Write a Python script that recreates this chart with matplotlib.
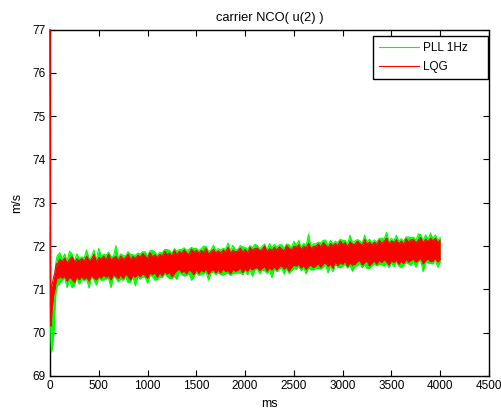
import matplotlib
matplotlib.use("Agg")
import matplotlib.pyplot as plt
from matplotlib.lines import Line2D

# time axis (ms): start-up transient, then every 25 ms
t_start = [0, 5, 10, 15, 20, 30, 40, 50, 60, 70, 80, 90, 100]
t_ms = t_start + list(range(125, 4001, 25))

# PLL 1Hz (green) upper / lower envelope
pll_hi = [72.45, 72.3, 70.9, 70.5, 70.4, 70.6, 70.9, 71.3, 71.6, 71.75, 71.8, 71.8, 71.85,
          71.69, 71.82, 71.65, 71.88, 71.82, 71.66, 71.82, 71.71,
          71.75, 71.72, 71.91, 71.70, 71.75, 71.91, 71.68, 71.95,
          71.76, 71.81, 71.79, 71.86, 71.76, 71.75, 72.01, 71.72,
          71.82, 71.78, 71.77, 71.87, 71.81, 71.80, 71.78, 71.84,
          71.81, 71.87, 71.87, 71.76, 71.89, 71.90, 71.86, 71.78,
          71.86, 71.84, 71.92, 71.92, 71.90, 71.82, 71.94, 71.88,
          71.92, 71.92, 71.96, 71.90, 71.92, 71.97, 71.94, 71.95,
          71.89, 71.94, 72.00, 71.99, 71.88, 71.91, 72.02, 71.89,
          71.94, 71.91, 71.95, 71.92, 72.07, 71.89, 72.02, 71.91,
          71.92, 72.01, 71.98, 71.97, 71.92, 72.01, 71.96, 72.04,
          72.01, 71.93, 72.00, 72.05, 71.91, 72.06, 71.95, 72.04,
          71.97, 72.03, 72.03, 71.94, 72.05, 72.03, 71.96, 72.11,
          72.02, 72.13, 71.96, 72.07, 72.00, 72.27, 71.98, 72.05,
          72.05, 72.09, 72.07, 72.13, 72.14, 72.00, 72.13, 72.05,
          72.11, 72.08, 72.16, 72.13, 72.13, 72.04, 72.25, 72.08,
          72.11, 72.15, 72.12, 72.06, 72.25, 72.08, 72.16, 72.07,
          72.14, 72.09, 72.18, 72.18, 72.16, 72.32, 72.09, 72.18,
          72.12, 72.25, 72.11, 72.17, 72.11, 72.21, 72.21, 72.19,
          72.21, 72.12, 72.28, 72.26, 72.12, 72.26, 72.14, 72.30,
          72.17, 72.26, 72.13, 72.20]
pll_lo = [72.3, 70.2, 69.8, 69.55, 69.6, 69.75, 70.0, 70.5, 70.9, 71.05, 71.1, 71.1, 71.15,
          71.20, 71.27, 71.04, 71.23, 71.04, 71.09, 71.27, 71.12,
          71.23, 71.20, 71.24, 71.03, 71.29, 71.21, 71.10, 71.26,
          71.21, 71.22, 71.24, 71.26, 71.04, 71.30, 71.26, 71.17,
          71.24, 71.21, 71.29, 71.15, 71.17, 71.29, 71.08, 71.29,
          71.24, 71.29, 71.28, 71.14, 71.32, 71.30, 71.21, 71.23,
          71.29, 71.27, 71.36, 71.30, 71.25, 71.25, 71.30, 71.23,
          71.41, 71.34, 71.31, 71.32, 71.37, 71.21, 71.29, 71.39,
          71.32, 71.35, 71.36, 71.41, 71.21, 71.38, 71.40, 71.34,
          71.38, 71.34, 71.33, 71.36, 71.38, 71.32, 71.37, 71.37,
          71.38, 71.38, 71.34, 71.44, 71.34, 71.46, 71.30, 71.45,
          71.46, 71.36, 71.45, 71.43, 71.37, 71.44, 71.27, 71.48,
          71.41, 71.46, 71.50, 71.35, 71.49, 71.37, 71.42, 71.50,
          71.46, 71.54, 71.43, 71.51, 71.36, 71.49, 71.45, 71.45,
          71.49, 71.48, 71.47, 71.51, 71.57, 71.38, 71.55, 71.41,
          71.58, 71.51, 71.50, 71.53, 71.58, 71.49, 71.55, 71.42,
          71.54, 71.54, 71.62, 71.50, 71.58, 71.48, 71.49, 71.54,
          71.59, 71.54, 71.58, 71.57, 71.54, 71.60, 71.50, 71.62,
          71.52, 71.64, 71.54, 71.50, 71.55, 71.62, 71.59, 71.55,
          71.65, 71.51, 71.64, 71.66, 71.41, 71.62, 71.61, 71.60,
          71.59, 71.68, 71.51, 71.64]

# LQG (red) upper / lower envelope
lqg_hi = [77.0, 71.2, 71.0, 71.05, 71.1, 71.2, 71.3, 71.4, 71.55, 71.6, 71.55, 71.65, 71.7,
          71.64, 71.72, 71.61, 71.68, 71.76, 71.63, 71.70, 71.66,
          71.71, 71.64, 71.76, 71.67, 71.69, 71.81, 71.63, 71.73,
          71.70, 71.77, 71.67, 71.81, 71.68, 71.72, 71.76, 71.66,
          71.77, 71.69, 71.73, 71.81, 71.68, 71.76, 71.71, 71.79,
          71.74, 71.83, 71.77, 71.71, 71.85, 71.75, 71.80, 71.73,
          71.81, 71.76, 71.88, 71.80, 71.84, 71.77, 71.90, 71.79,
          71.88, 71.82, 71.91, 71.84, 71.80, 71.93, 71.86, 71.90,
          71.83, 71.90, 71.85, 71.94, 71.81, 71.87, 71.92, 71.84,
          71.89, 71.83, 71.91, 71.86, 71.97, 71.84, 71.90, 71.87,
          71.88, 71.95, 71.86, 71.92, 71.84, 71.97, 71.90, 71.94,
          71.95, 71.89, 71.92, 72.00, 71.87, 71.94, 71.90, 71.97,
          71.90, 71.98, 71.93, 71.88, 72.01, 71.95, 71.91, 71.99,
          71.97, 72.03, 71.92, 72.00, 71.95, 72.07, 71.94, 71.99,
          71.99, 72.05, 71.97, 72.08, 72.02, 71.96, 72.06, 72.00,
          72.06, 72.00, 72.12, 72.03, 72.08, 71.98, 72.10, 72.04,
          72.03, 72.11, 72.06, 72.01, 72.15, 72.04, 72.09, 72.02,
          72.09, 72.03, 72.14, 72.06, 72.11, 72.18, 72.05, 72.12,
          72.08, 72.15, 72.05, 72.12, 72.03, 72.17, 72.09, 72.14,
          72.15, 72.08, 72.13, 72.20, 72.07, 72.16, 72.10, 72.18,
          72.12, 72.18, 72.09, 72.14]
lqg_lo = [77.0, 70.3, 70.15, 70.3, 70.5, 70.7, 70.9, 71.0, 71.15, 71.25, 71.3, 71.25, 71.3,
          71.26, 71.31, 71.19, 71.28, 71.24, 71.16, 71.30, 71.22,
          71.31, 71.23, 71.29, 71.19, 71.33, 71.27, 71.22, 71.30,
          71.26, 71.34, 71.28, 71.32, 71.22, 71.35, 71.30, 71.25,
          71.34, 71.25, 71.36, 71.30, 71.22, 71.33, 71.28, 71.35,
          71.29, 71.37, 71.32, 71.26, 71.38, 71.34, 71.39, 71.28,
          71.39, 71.31, 71.42, 71.35, 71.40, 71.29, 71.37, 71.43,
          71.47, 71.39, 71.43, 71.36, 71.45, 71.41, 71.34, 71.46,
          71.37, 71.45, 71.40, 71.48, 71.35, 71.43, 71.46, 71.38,
          71.46, 71.38, 71.49, 71.41, 71.44, 71.36, 71.47, 71.42,
          71.44, 71.50, 71.39, 71.48, 71.42, 71.51, 71.45, 71.49,
          71.51, 71.44, 71.49, 71.53, 71.42, 71.50, 71.45, 71.52,
          71.45, 71.52, 71.55, 71.47, 71.53, 71.42, 71.50, 71.56,
          71.54, 71.58, 71.49, 71.56, 71.46, 71.53, 71.57, 71.50,
          71.54, 71.60, 71.51, 71.58, 71.62, 71.53, 71.59, 71.49,
          71.64, 71.55, 71.62, 71.58, 71.66, 71.53, 71.61, 71.56,
          71.58, 71.64, 71.67, 71.56, 71.62, 71.66, 71.54, 71.61,
          71.66, 71.58, 71.68, 71.62, 71.69, 71.64, 71.56, 71.67,
          71.62, 71.69, 71.58, 71.66, 71.60, 71.70, 71.63, 71.67,
          71.70, 71.63, 71.68, 71.72, 71.59, 71.67, 71.71, 71.64,
          71.65, 71.72, 71.63, 71.69]

plt.rcParams['font.family'] = ['Liberation Sans', 'DejaVu Sans']

fig = plt.figure(figsize=(5.02, 4.11), dpi=100)
ax = fig.add_axes([0.0996, 0.0852, 0.8745, 0.843])

green = (0, 1, 0)
red = (1, 0, 0)

# green band first, red band on top (drawn over the spines like matlab)
ax.fill_between(t_ms, pll_lo, pll_hi, color=green, lw=0, zorder=3)
ax.plot(t_ms, pll_hi, color=green, lw=0.8, zorder=3, clip_on=False)
ax.plot(t_ms, pll_lo, color=green, lw=0.8, zorder=3, clip_on=False)
ax.fill_between(t_ms, lqg_lo, lqg_hi, color=red, lw=0, zorder=4)
ax.plot(t_ms, lqg_hi, color=red, lw=0.8, zorder=4, clip_on=False)
ax.plot(t_ms, lqg_lo, color=red, lw=0.8, zorder=4, clip_on=False)

ax.set_xlim(0, 4500)
ax.set_ylim(69, 77)
ax.set_xticks(range(0, 4501, 500))
ax.set_yticks(range(69, 78))
ax.tick_params(direction='in', length=4, width=0.8, labelsize=8.5,
               top=True, right=True, pad=3)
for s in ax.spines.values():
    s.set_linewidth(1.0)

ax.set_title("carrier NCO( u(2) )", fontsize=9.3, pad=6)
ax.set_xlabel("ms", fontsize=9, labelpad=4)
ax.set_ylabel("m/s", fontsize=9, labelpad=7)

# matlab style legend box, wider than its contents
handles = [Line2D([], [], color=green, lw=0.8),
           Line2D([], [], color=red, lw=0.8)]
leg = ax.legend(handles, ["PLL 1Hz", "LQG"], loc='upper left',
                bbox_to_anchor=(0.736, 0.86, 0.262, 0.121), mode='expand',
                fontsize=8.5, fancybox=False, framealpha=1, edgecolor='black',
                handlelength=3.4, handletextpad=0.3, borderaxespad=0,
                borderpad=0.5, labelspacing=0.6)
leg.get_frame().set_linewidth(1.0)
leg.set_zorder(5)

fig.savefig("out.png", dpi=100)
